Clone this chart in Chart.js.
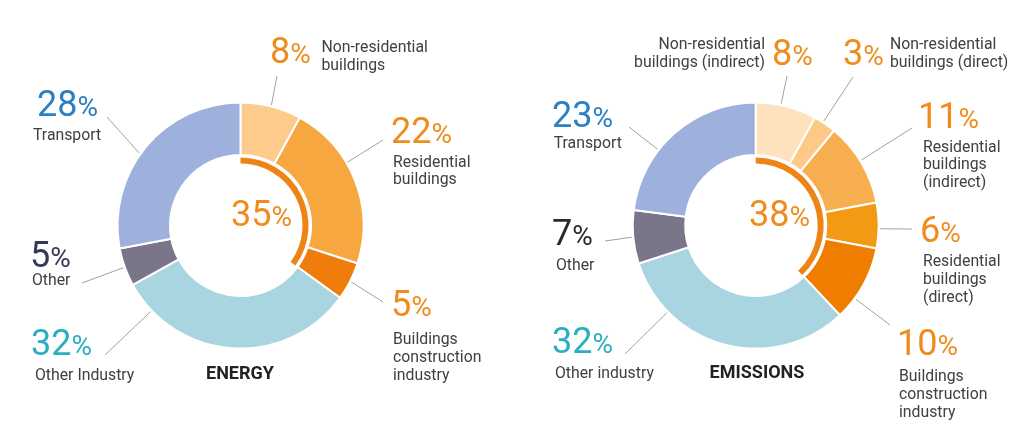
<!DOCTYPE html>
<html>
<head>
<meta charset="utf-8">
<script src="https://cdn.jsdelivr.net/npm/chart.js@4/dist/chart.umd.min.js"></script>
<style>
  html, body { margin:0; padding:0; background:#fff; }
  body { width:1024px; height:435px; position:relative; overflow:hidden; font-family: Roboto, "Noto Sans", sans-serif; }
  canvas { position:absolute; top:0; }
  .pct { position:absolute; font-size:36px; line-height:36px; font-weight:400; white-space:nowrap; }
  .pct span { font-size:28px; }
  .txt { position:absolute; font-size:15.8px; line-height:17.8px; color:#404040; white-space:nowrap; }
  .ttl { position:absolute; font-size:18px; line-height:20px; font-weight:700; color:#222; white-space:nowrap; transform:translateX(-50%); }
</style>
</head>
<body>
<canvas id="energy" width="512" height="435" style="left:0;width:512px;height:435px"></canvas>
<canvas id="emissions" width="512" height="435" style="left:512px;width:512px;height:435px"></canvas>
<script>
// ---- data ----
const energyLabels = [
  ['Non-residential', 'buildings'],
  ['Residential', 'buildings'],
  ['Buildings', 'construction', 'industry'],
  ['Other Industry'],
  ['Other'],
  ['Transport']
];
const energyValues = [8, 22, 5, 32, 5, 28];
const energyBuildingCount = 3; // first three categories are buildings-related

const emissionsLabels = [
  ['Non-residential', 'buildings (indirect)'],
  ['Non-residential', 'buildings (direct)'],
  ['Residential', 'buildings', '(indirect)'],
  ['Residential', 'buildings', '(direct)'],
  ['Buildings', 'construction', 'industry'],
  ['Other industry'],
  ['Other'],
  ['Transport']
];
const emissionsValues = [8, 3, 11, 6, 10, 32, 7, 23];
const emissionsBuildingCount = 5;

const chartTitles = ['ENERGY', 'EMISSIONS'];

// ---- styles ----
const energyColors = ['#FDCB8B', '#F6A73F', '#EF7D0B', '#A9D5E0', '#7B7589', '#9EB1DD'];
const emissionsColors = ['#FDE2BD', '#FCC987', '#F6AE4F', '#F39A14', '#EF7D00', '#A9D5E0', '#7B7589', '#9EB1DD'];
const arcColor = '#EF8416';
const ORANGE = '#F08C1E', BLUE = '#2C7FC0', TEAL = '#2AAFC0';
const TXT_BASE = 14.3; // baseline offset of first text line inside its box

// label layouts (page coordinates): pct = [x, baseline], txt = [x, firstBaseline, align], line = [sliceFraction, endX, endY]
const energyLayout = [
  {c: ORANGE, pct:[272, 63.5], txt:[321.5, 52.7, 'left'], line:[0.5, 277, 76]},
  {c: ORANGE, pct:[393, 143], txt:[393, 167, 'left'], line:[0.386, 383, 140]},
  {c: ORANGE, pct:[393, 316], txt:[393, 344.3, 'left'], line:[0.5, 383, 302]},
  {c: TEAL, pct:[33, 355], txt:[35, 380, 'left'], line:[0.87, 105, 355]},
  {c: '#343A52', pct:[32, 267], txt:[32, 285, 'left'], line:[0.5, 82, 283]},
  {c: BLUE, pct:[39, 116], txt:[33, 140.7, 'left'], line:[0.46, 107, 117]}
];
const emissionsLayout = [
  {c: ORANGE, pct:[774, 65.5], txt:[765, 49.5, 'right'], line:[0.41, 787, 76]},
  {c: ORANGE, pct:[845, 65.5], txt:[890, 49.5, 'left'], line:[0.4, 853, 77]},
  {c: ORANGE, pct:[920, 128], txt:[923, 152, 'left'], line:[0.47, 912, 128]},
  {c: ORANGE, pct:[922, 242], txt:[923, 266.7, 'left'], line:[0.57, 912, 229]},
  {c: ORANGE, pct:[899, 355], txt:[899, 381.7, 'left'], line:[0.71, 890, 325]},
  {c: TEAL, pct:[554, 353], txt:[555, 378.3, 'left'], line:[0.77, 625, 354]},
  {c: '#2A2A2A', pct:[554, 245], txt:[556, 270, 'left'], line:[0.5, 605, 241]},
  {c: BLUE, pct:[554, 127], txt:[553.7, 148.3, 'left'], line:[0.37, 629, 127]}
];

const charts = [
  {id:'energy', offsetX:0, labels:energyLabels, values:energyValues, nb:energyBuildingCount, colors:energyColors, layout:energyLayout,
   center:[240.5, 225.5], centerPct:[233, 226], title:[240, 363]},
  {id:'emissions', offsetX:512, labels:emissionsLabels, values:emissionsValues, nb:emissionsBuildingCount, colors:emissionsColors, layout:emissionsLayout,
   center:[755.7, 225.5], centerPct:[751, 226], title:[757, 362]}
];

function addDiv(cls, html, style) {
  const d = document.createElement('div');
  d.className = cls;
  d.innerHTML = html;
  Object.assign(d.style, style);
  document.body.appendChild(d);
  return d;
}

const leaderPlugin = {
  id: 'leaders',
  afterDatasetsDraw(chart, args, opts) {
    const ctx = chart.ctx;
    const meta = chart.getDatasetMeta(0);
    ctx.save();
    ctx.strokeStyle = '#A0A0A0';
    ctx.lineWidth = 1;
    opts.layout.forEach((l, i) => {
      const arc = meta.data[i];
      const p = arc.getProps(['x', 'y', 'startAngle', 'endAngle', 'outerRadius'], true);
      const a = p.startAngle + l.line[0] * (p.endAngle - p.startAngle);
      const r = p.outerRadius + 1.5;
      ctx.beginPath();
      ctx.moveTo(p.x + Math.cos(a) * r, p.y + Math.sin(a) * r);
      ctx.lineTo(l.line[1] - opts.offsetX, l.line[2]);
      ctx.stroke();
    });
    ctx.restore();
  }
};

charts.forEach((c, ci) => {
  const share = c.values.slice(0, c.nb).reduce((s, v) => s + v, 0);
  const total = c.values.reduce((s, v) => s + v, 0);
  const half = 124;
  const lx = c.center[0] - c.offsetX;
  const pad = {left: lx - half, right: 512 - (lx + half), top: c.center[1] - half, bottom: 435 - (c.center[1] + half)};
  new Chart(document.getElementById(c.id), {
    type: 'doughnut',
    data: {
      labels: c.labels.map(l => l.join(' ')),
      datasets: [
        {data: c.values, backgroundColor: c.colors, borderColor: '#fff', borderWidth: 2, weight: 52.5},
        {data: [total], backgroundColor: 'rgba(0,0,0,0)', borderWidth: 0, weight: 2.5},
        {data: [share, total - share], backgroundColor: [arcColor, 'rgba(0,0,0,0)'], borderWidth: 0, weight: 6}
      ]
    },
    options: {
      responsive: false,
      devicePixelRatio: 1,
      animation: false,
      cutout: 62,
      layout: {padding: pad},
      plugins: {legend: {display: false}, tooltip: {enabled: false}, leaders: {layout: c.layout, offsetX: c.offsetX}},
      events: []
    },
    plugins: [leaderPlugin]
  });

  // labels
  c.layout.forEach((l, i) => {
    addDiv('pct', c.values[i] + '<span>%</span>', {left: (l.pct[0] - 2) + 'px', top: (l.pct[1] - 30.3) + 'px', color: l.c});
    const st = {top: (l.txt[1] - TXT_BASE) + 'px', textAlign: l.txt[2]};
    if (l.txt[2] === 'right') st.right = (1024 - l.txt[0]) + 'px'; else st.left = l.txt[0] + 'px';
    addDiv('txt', c.labels[i].join('<br>'), st);
  });
  addDiv('pct', share + '<span>%</span>', {left: (c.centerPct[0] - 2) + 'px', top: (c.centerPct[1] - 30.3) + 'px', color: ORANGE});
  addDiv('ttl', chartTitles[ci], {left: c.title[0] + 'px', top: c.title[1] + 'px'});
});
</script>
</body>
</html>
